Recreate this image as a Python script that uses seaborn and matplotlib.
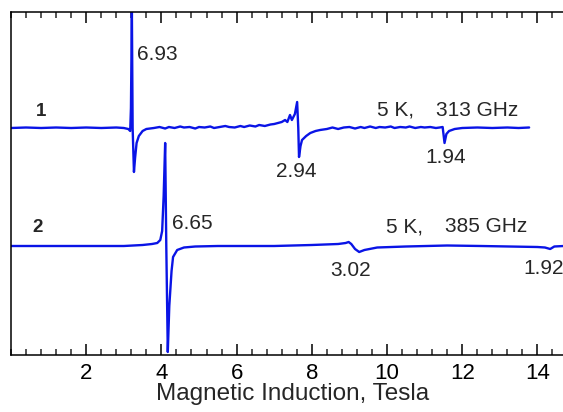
import matplotlib
matplotlib.use('Agg')
import matplotlib.pyplot as plt
from matplotlib.ticker import MultipleLocator
import seaborn as sns
import pandas as pd

# espectro 1: 5 K, 313 GHz (campo em T, intensidade relativa a linha de base)
b1 = [0.0, 0.4, 0.8, 1.2, 1.6, 2.0, 2.4, 2.8, 3.0, 3.12, 3.17, 3.19, 3.215, 3.235,
      3.27, 3.30, 3.34, 3.40, 3.50, 3.60, 3.8, 3.95, 4.1, 4.2, 4.35, 4.5, 4.6,
      4.75, 4.9, 5.0, 5.15, 5.3, 5.4, 5.55, 5.7, 5.8, 5.95, 6.1, 6.2, 6.35, 6.5,
      6.6, 6.75, 6.9, 7.0, 7.1, 7.2, 7.29, 7.35, 7.42, 7.47,
      7.55, 7.61, 7.64, 7.66, 7.70, 7.74, 7.85, 7.96, 8.1, 8.22, 8.4, 8.55, 8.7,
      8.85, 9.0, 9.15, 9.3, 9.4, 9.55, 9.7, 9.8, 9.95, 10.1, 10.2, 10.35, 10.5,
      10.6, 10.75, 10.9, 11.0, 11.15, 11.3, 11.4,
      11.48, 11.53, 11.58, 11.65, 11.8, 12.0, 12.4, 12.8, 13.2, 13.5, 13.78]
i1 = [0, 0.5, 0, 0.5, 0, 0.5, 0, 0.5, 0, -1, -3, 20, 116, 0,
      -44, -30, -15, -8, -3, -1, 0, 1, -0.5, 1, 0, 1.5, 0.5,
      1, -0.5, 1, 0.5, 1.5, 0, 1, 2, 1, 0.5, 2, 1, 2.5, 1.5,
      3, 2, 3.5, 4, 5, 6, 8, 6, 13, 8,
      14, 26, 0, -29, -18, -12, -8, -5, -3, -2, -1, 0.5, -1,
      0.5, 1, -0.5, 1, 0, 1.5, 0, 1, 0.5, 1.5, 0, 1, 0.5,
      1.5, 0, 1, 0.5, 1, 0, 0.5,
      1, -15, -6, -3, -1, 0, 0.5, 0, 0.5, 0, 0.5]

# espectro 2: 5 K, 385 GHz
b2 = [0.0, 1.0, 2.0, 3.0, 3.5, 3.75, 3.89, 3.97, 4.02, 4.06, 4.10, 4.13, 4.17,
      4.21, 4.27, 4.31, 4.42, 4.6, 4.9, 5.5, 7.0, 8.0, 8.7, 8.9, 8.98, 9.05,
      9.15, 9.26, 9.4, 9.74, 10.5, 11.6, 12.5, 14.0, 14.2, 14.34, 14.45, 14.7, 15.0]
i2 = [0, 0, 0, 0, 1, 2, 3, 6, 15, 50, 103, 0, -106,
      -60, -25, -11, -4, -1.5, -0.5, 0, 0, 1, 2, 3, 4, 2,
      -3, -6, -4, -1.5, -0.5, 0.5, 0, -1, -1.5, -3, -0.5, 0, 0]

g_labels = ['6.93', '2.94', '1.94', '6.65', '3.02', '1.92']

off1, off2 = 227, 109

df1 = pd.DataFrame({'B': b1, 'y': [v + off1 for v in i1]})
df2 = pd.DataFrame({'B': b2, 'y': [v + off2 for v in i2]})

sns.set_theme(style='ticks')
plt.rcParams['font.family'] = ['Liberation Sans', 'DejaVu Sans']

fig = plt.figure(figsize=(5.63, 4.12), dpi=100)
ax = fig.add_axes([11/563, 1 - 355/412, 564/563, 343/412])

cor = '#0a14e6'
sns.lineplot(data=df1, x='B', y='y', color=cor, lw=1.7, estimator=None, ax=ax)
sns.lineplot(data=df2, x='B', y='y', color=cor, lw=1.7, estimator=None, ax=ax)

ax.set_xlim(0, 15)
ax.set_ylim(0, 343)
ax.set_xticks([2, 4, 6, 8, 10, 12, 14])
ax.xaxis.set_minor_locator(MultipleLocator(0.4))
ax.set_yticks([])
ax.set_ylabel('')
ax.tick_params(axis='x', which='major', direction='in', top=True, length=8, width=1.1,
               labelsize=16, pad=6, colors='black')
ax.tick_params(axis='x', which='minor', direction='in', top=True, length=4, width=1.1)
for s in ['left', 'top', 'bottom']:
    ax.spines[s].set_linewidth(1.1)
    ax.spines[s].set_color('black')
ax.spines['right'].set_visible(False)
ax.set_xlabel('Magnetic Induction, Tesla', fontsize=17.5, labelpad=-1)

fs = 15
ax.text(3.35, 300, g_labels[0], fontsize=fs, va='center', ha='left')
ax.text(7.59, 183, g_labels[1], fontsize=fs, va='center', ha='center')
ax.text(11.55, 197, g_labels[2], fontsize=fs, va='center', ha='center')
ax.text(4.29, 131, g_labels[3], fontsize=fs, va='center', ha='left')
ax.text(9.02, 85, g_labels[4], fontsize=fs, va='center', ha='center')
ax.text(13.62, 87, g_labels[5], fontsize=fs, va='center', ha='left')

ax.text(0.80, 244, '1', fontsize=13.5, fontweight='bold', va='center', ha='center')
ax.text(0.70, 127, '2', fontsize=13.5, fontweight='bold', va='center', ha='center')
ax.text(9.74, 245, '5 K,', fontsize=fs, va='center', ha='left')
ax.text(11.31, 245, '313 GHz', fontsize=fs, va='center', ha='left')
ax.text(9.98, 128, '5 K,', fontsize=fs, va='center', ha='left')
ax.text(11.55, 128, '385 GHz', fontsize=fs, va='center', ha='left')

fig.savefig('out.png', dpi=100)
